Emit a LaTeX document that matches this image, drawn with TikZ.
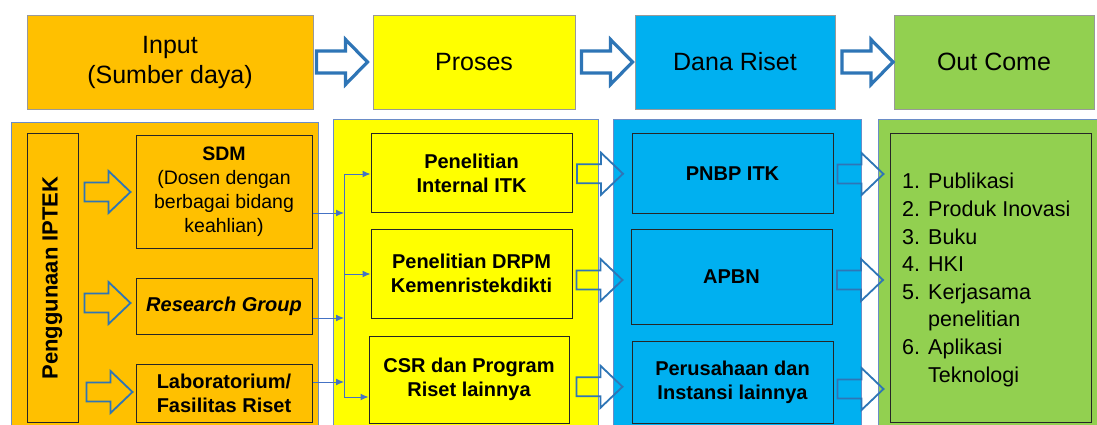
\documentclass[tikz,border=0pt]{standalone}
\usepackage{fontspec}
\setmainfont{Liberation Sans}
\usetikzlibrary{arrows.meta,calc}
\definecolor{corange}{HTML}{FFC000}
\definecolor{cyellow}{HTML}{FFFF00}
\definecolor{cblue}{HTML}{00B0F0}
\definecolor{cgreen}{HTML}{92D050}
\definecolor{arrowblue}{HTML}{2E75B6}
\definecolor{panelborder}{HTML}{6A8CC7}
\definecolor{linkblue}{HTML}{4472C4}
\tikzset{
  topbox/.style={draw=black!40, line width=0.8pt, minimum height=94, inner sep=0, align=center,
    font=\fontsize{25}{30}\selectfont},
  inbox/.style={draw=black!85, line width=1pt, inner sep=0, align=center,
    font=\fontsize{20}{24}\selectfont\bfseries},
  panel/.style={draw=panelborder, line width=0.9pt},
  link/.style={draw=linkblue, line width=1pt, -{Latex[length=8,width=7]}},
  linkline/.style={draw=linkblue, line width=1pt},
  bigarrow/.pic={\draw[arrowblue, line width=3.2pt, fill=white, line join=miter]
    (-25.5,-11) -- (3.5,-11) -- (3.5,-22.5) -- (25.5,0) -- (3.5,22.5) -- (3.5,11) -- (-25.5,11) -- cycle;},
  smallarrow/.pic={\draw[arrowblue, line width=1.8pt, line join=miter]
    (-23,-9.5) -- (1,-9.5) -- (1,-21) -- (23,0) -- (1,21) -- (1,9.5) -- (-23,9.5) -- cycle;}
}
\begin{document}
\begin{tikzpicture}[x=1pt,y=-1pt]
\useasboundingbox (0,0) rectangle (1097,425);
\fill[white] (0,0) rectangle (1097,425);

% top row
\node[topbox, fill=corange, minimum width=286] (input) at (170,62) {Input\\(Sumber daya)};
\node[topbox, fill=cyellow, minimum width=202] (proses) at (474,62) {Proses};
\node[topbox, fill=cblue, minimum width=200] (dana) at (735,62) {Dana Riset};
\node[topbox, fill=cgreen, minimum width=200] (outcome) at (994,62) {Out Come};
\pic at ($(input.east)!0.5!(proses.west)+(-1,0)$) {bigarrow};
\pic at ($(proses.east)!0.5!(dana.west)+(2,0)$) {bigarrow};
\pic at ($(dana.east)!0.5!(outcome.west)+(3,0)$) {bigarrow};

% panels
\fill[corange] (11,122) rectangle (318,425);
\draw[panel] (11,425) -- (11,122) -- (318,122) -- (318,425);
\fill[cyellow] (333,119) rectangle (598,425);
\draw[panel] (333,425) -- (333,119) -- (598,119) -- (598,425);
\fill[cblue] (613,119) rectangle (861,425);
\draw[panel] (613,425) -- (613,119) -- (861,119) -- (861,425);
\fill[cgreen] (878,119) rectangle (1097,425);
\draw[panel] (878,425) -- (878,119) -- (1097,119);

% input column
\node[inbox, minimum width=51, minimum height=288] (iptek) at (52.5,278) {};
\node[font=\fontsize{22}{26}\selectfont\bfseries, rotate=90, inner sep=0] (iptektext) at (iptek.center) {Penggunaan IPTEK};
\node[inbox, font=\fontsize{19.5}{24}\selectfont, minimum width=176, minimum height=112] (sdm) at (224,192)
  {\textbf{SDM}\\(Dosen dengan\\berbagai bidang\\keahlian)};
\node[inbox, minimum width=176, minimum height=56] (rg) at (224,306) {\itshape Research Group};
\node[inbox, minimum width=176, minimum height=58] (lab) at (224,393) {Laboratorium/\\Fasilitas Riset};
\pic at ($(sdm.west)+(-28,0)$) {smallarrow};
\pic at ($(rg.west)+(-28,-3)$) {smallarrow};
\pic at ($(lab.west)+(-26,-1)$) {smallarrow};

% proses column
\node[inbox, minimum width=201, minimum height=78] (pi) at (471.5,173) {Penelitian\\Internal ITK};
\node[inbox, minimum width=201, minimum height=89] (drpm) at (471.5,273.5) {Penelitian DRPM\\Kemenristekdikti};
\node[inbox, minimum width=200, minimum height=87] (csr) at (469,379.5) {CSR dan Program\\Riset lainnya};

\coordinate (bs) at (344,213);
\coordinate (br) at (344,318);
\coordinate (bl) at (344,382);
\coordinate (bt) at (344,174);
\coordinate (bm) at (344,274);
\coordinate (bb) at (344,397);
\draw[linkline] (bt) -- (bb);
\draw[link] (sdm.east |- bs) -- (bs);
\draw[link] (rg.east |- br) -- (br);
\draw[link] (lab.east |- bl) -- (bl);
\draw[link] (bt) -- (pi.west |- bt);
\draw[link] (bm) -- (drpm.west |- bm);
\draw[link] (bb) -- (csr.west |- bb);

% dana column
\node[inbox, minimum width=201, minimum height=79] (pnbp) at (732.5,173.5) {PNBP ITK};
\node[inbox, minimum width=201, minimum height=95] (apbn) at (731.5,276.5) {APBN};
\node[inbox, minimum width=201, minimum height=82] (perus) at (732.5,382) {Perusahaan dan\\Instansi lainnya};
\pic at ($(pi.east)!0.5!(pnbp.west)+(-2,0.5)$) {smallarrow};
\pic at ($(drpm.east)!0.5!(apbn.west)+(-2,5)$) {smallarrow};
\pic at ($(csr.east)!0.5!(perus.west)+(-1,6)$) {smallarrow};

% outcome column
\node[inbox, minimum width=201, minimum height=288] (out) at (990.5,278) {};
\node[anchor=west, align=left, inner sep=0, font=\fontsize{21.5}{27.6}\selectfont] (list) at (902,280)
  {\makebox[26pt][l]{1.}Publikasi\\
   \makebox[26pt][l]{2.}Produk Inovasi\\
   \makebox[26pt][l]{3.}Buku\\
   \makebox[26pt][l]{4.}HKI\\
   \makebox[26pt][l]{5.}Kerjasama\\
   \makebox[26pt][l]{}penelitian\\
   \makebox[26pt][l]{6.}Aplikasi\\
   \makebox[26pt][l]{}Teknologi};
\pic at ($(pnbp.east)!0.5!(out.west |- pnbp)+(-1,0.5)$) {smallarrow};
\pic at ($(apbn.east)!0.5!(out.west |- apbn)+(-1,3.5)$) {smallarrow};
\pic at ($(perus.east)!0.5!(out.west |- perus)+(-1,7)$) {smallarrow};
\end{tikzpicture}
\end{document}
